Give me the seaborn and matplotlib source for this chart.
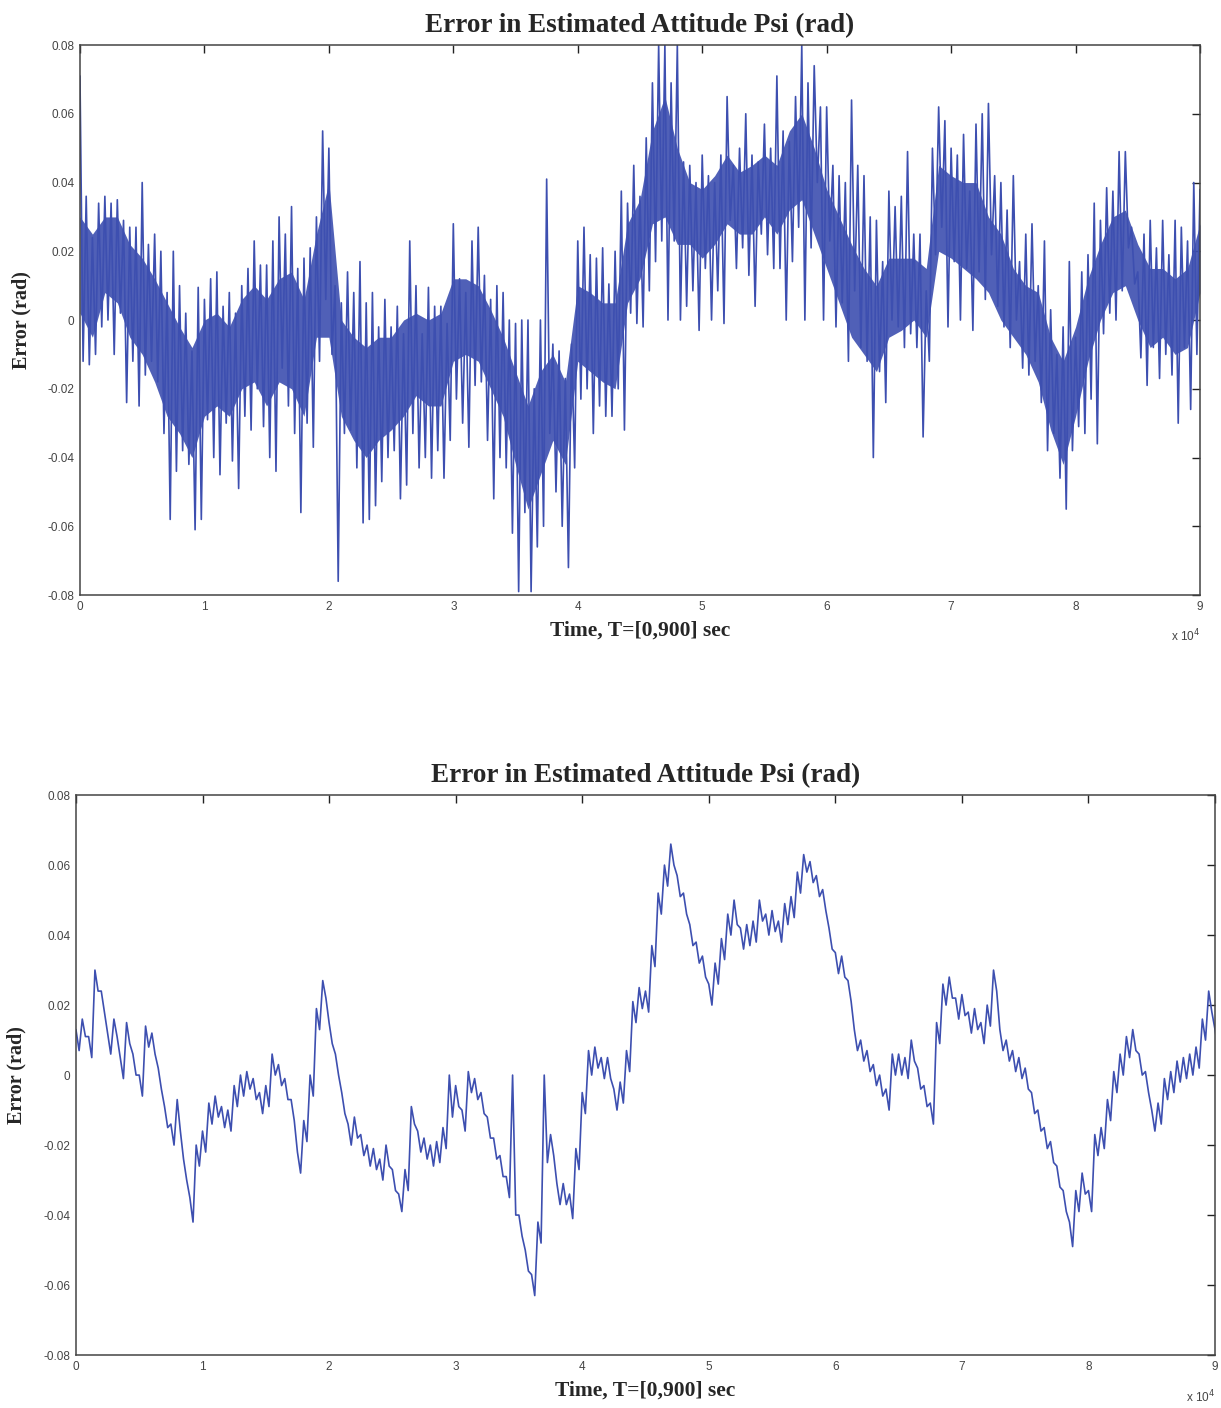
import numpy as np
import matplotlib
matplotlib.use("Agg")
import matplotlib.pyplot as plt
import seaborn as sns
from matplotlib.ticker import FuncFormatter

# ---------------- data ----------------
# sample instants (s), every 500 s from 0 to 90000
time_s = np.arange(0, 90001, 500)
# coarse instants (s) for the dense core band of the top panel, every 1000 s
core_time_s = np.arange(0, 90001, 1000)

# Top panel: upper / lower excursions of the noisy error at each sample (rad)
top_hi = [
    0.071, 0.036, 0.024, 0.034, 0.036, 0.034, 0.035, 0.029, 0.027, 0.027,
    0.040, 0.022, 0.025, 0.020, 0.008, 0.020, 0.010, 0.002, -0.009, 0.0095,
    0.006, 0.012, 0.014, 0.004, 0.008, 0.002, 0.010, 0.015, 0.023, 0.016,
    0.016, 0.023, 0.030, 0.025, 0.033, 0.015, 0.018, 0.021, 0.030, 0.055,
    0.050, 0.010, 0.005, 0.014, 0.008, 0.017, 0.005, 0.008, -0.002, 0.006,
    -0.002, 0.004, -0.004, 0.023, 0.010, -0.004, 0.0095, 0.004, 0.004, -0.001,
    0.028, 0.012, 0.008, 0.023, 0.027, 0.013, 0.006, 0.010, 0.008, 0.000,
    -0.001, 0.000, 0.000, -0.020, 0.000, 0.041, -0.007, -0.009, -0.017, -0.007,
    0.023, 0.027, 0.019, 0.018, 0.021, 0.0105, 0.020, 0.0375, 0.034, 0.045,
    0.036, 0.053, 0.069, 0.080, 0.080, 0.069, 0.080, 0.046, 0.045, 0.040,
    0.048, 0.042, 0.040, 0.048, 0.065, 0.045, 0.050, 0.060, 0.048, 0.046,
    0.057, 0.050, 0.071, 0.055, 0.052, 0.065, 0.080, 0.069, 0.074, 0.062,
    0.062, 0.045, 0.042, 0.040, 0.064, 0.045, 0.042, 0.030, 0.029, 0.017,
    0.0375, 0.033, 0.036, 0.049, 0.025, 0.025, 0.0085, 0.050, 0.062, 0.058,
    0.050, 0.048, 0.054, 0.0375, 0.057, 0.060, 0.063, 0.042, 0.040, 0.032,
    0.042, 0.017, 0.025, 0.028, 0.010, 0.023, 0.003, -0.010, -0.002, 0.017,
    -0.005, 0.014, 0.019, 0.034, 0.029, 0.0385, 0.0375, 0.049, 0.049, 0.027,
    0.014, 0.025, 0.029, 0.021, 0.029, 0.019, 0.029, 0.027, 0.023, 0.040,
    0.038,
]
top_lo = [
    -0.012, -0.013, -0.010, -0.002, 0.000, -0.010, 0.002, -0.024, -0.012, -0.025,
    -0.016, -0.012, -0.018, -0.033, -0.058, -0.044, -0.038, -0.042, -0.061, -0.058,
    -0.029, -0.040, -0.045, -0.030, -0.041, -0.049, -0.028, -0.032, -0.020, -0.031,
    -0.040, -0.044, -0.014, -0.025, -0.033, -0.056, -0.030, -0.037, -0.012, 0.006,
    -0.010, -0.076, -0.033, -0.032, -0.043, -0.059, -0.058, -0.054, -0.047, -0.040,
    -0.038, -0.052, -0.048, -0.033, -0.043, -0.040, -0.046, -0.038, -0.046, -0.035,
    -0.023, -0.030, -0.037, -0.019, -0.018, -0.035, -0.052, -0.040, -0.043, -0.062,
    -0.079, -0.056, -0.079, -0.066, -0.060, -0.033, -0.050, -0.060, -0.072, -0.043,
    -0.023, -0.020, -0.033, -0.025, -0.028, -0.028, -0.020, -0.032, 0.002, -0.001,
    -0.002, 0.0085, 0.017, 0.023, 0.000, 0.023, 0.000, 0.004, 0.0085, -0.003,
    0.015, 0.000, 0.0085, -0.001, 0.029, 0.015, 0.021, 0.013, 0.004, 0.025,
    0.019, 0.015, 0.015, 0.000, 0.017, 0.027, 0.000, 0.021, 0.040, 0.000,
    0.023, -0.002, 0.005, -0.012, 0.0085, -0.008, -0.012, -0.040, -0.015, -0.024,
    0.000, -0.002, -0.008, -0.004, -0.008, -0.034, -0.012, 0.019, 0.027, -0.002,
    0.017, 0.000, 0.015, -0.003, 0.014, 0.006, 0.019, 0.004, -0.002, -0.008,
    0.000, -0.014, -0.016, -0.012, -0.024, -0.038, -0.033, -0.046, -0.055, -0.038,
    -0.031, -0.033, -0.023, -0.036, -0.004, 0.002, 0.000, 0.0085, 0.021, 0.0105,
    -0.011, -0.019, -0.008, -0.017, -0.010, -0.016, -0.030, -0.008, -0.026, -0.010,
    0.0085,
]

# Top panel: dense core band (rad), every 1000 s
core_hi = [
    0.030, 0.025, 0.030, 0.030, 0.022, 0.018, 0.012, 0.005, -0.002, -0.008,
    0.000, 0.002, -0.002, 0.006, 0.010, 0.006, 0.012, 0.014, 0.006, 0.025,
    0.040, 0.000, -0.005, -0.008, -0.005, -0.005, 0.000, 0.002, 0.000, 0.002,
    0.012, 0.012, 0.010, 0.003, -0.005, -0.015, -0.025, -0.015, -0.010, -0.018,
    0.010, 0.008, 0.005, 0.005, 0.028, 0.035, 0.055, 0.065, 0.050, 0.040,
    0.038, 0.042, 0.048, 0.043, 0.045, 0.048, 0.045, 0.055, 0.060, 0.050,
    0.038, 0.030, 0.022, 0.015, 0.010, 0.018, 0.018, 0.018, 0.015, 0.045,
    0.042, 0.040, 0.040, 0.030, 0.025, 0.015, 0.010, 0.008, -0.005, -0.012,
    -0.002, 0.012, 0.022, 0.030, 0.032, 0.022, 0.015, 0.015, 0.012, 0.015,
    0.028,
]
core_lo = [
    0.002, -0.005, 0.008, 0.005, -0.005, -0.010, -0.018, -0.028, -0.033, -0.040,
    -0.028, -0.025, -0.028, -0.020, -0.018, -0.025, -0.018, -0.020, -0.028, -0.005,
    -0.005, -0.028, -0.035, -0.040, -0.035, -0.032, -0.028, -0.022, -0.025, -0.025,
    -0.012, -0.010, -0.012, -0.020, -0.028, -0.042, -0.055, -0.045, -0.035, -0.042,
    -0.012, -0.015, -0.018, -0.020, 0.005, 0.012, 0.028, 0.030, 0.022, 0.022,
    0.018, 0.022, 0.028, 0.025, 0.025, 0.030, 0.025, 0.032, 0.035, 0.025,
    0.015, 0.005, -0.005, -0.010, -0.015, -0.005, -0.003, 0.000, -0.005, 0.020,
    0.018, 0.015, 0.012, 0.008, 0.000, -0.005, -0.010, -0.018, -0.032, -0.042,
    -0.028, -0.012, 0.000, 0.008, 0.010, 0.000, -0.008, -0.005, -0.010, -0.008,
    0.008,
]

# Bottom panel: upper / lower excursions of the filtered error (rad)
bot_hi = [
    0.013, 0.016, 0.011, 0.030, 0.024, 0.012, 0.016, 0.005, 0.015, 0.006,
    0.000, 0.014, 0.012, 0.002, -0.009, -0.014, -0.007, -0.024, -0.035, -0.020,
    -0.016, -0.008, -0.006, -0.009, -0.010, -0.003, 0.000, 0.001, -0.001, -0.005,
    -0.003, 0.006, 0.003, -0.001, -0.007, -0.022, -0.013, 0.000, 0.019, 0.027,
    0.015, 0.006, -0.005, -0.014, -0.012, -0.017, -0.020, -0.021, -0.024, -0.020,
    -0.027, -0.034, -0.027, -0.009, -0.016, -0.018, -0.020, -0.019, -0.015, 0.000,
    -0.003, -0.010, 0.001, -0.001, -0.005, -0.012, -0.018, -0.023, -0.029, 0.000,
    -0.040, -0.050, -0.057, -0.042, 0.000, -0.017, -0.031, -0.031, -0.034, -0.021,
    -0.005, 0.007, 0.008, 0.005, 0.005, -0.004, -0.002, 0.007, 0.021, 0.025,
    0.024, 0.037, 0.052, 0.060, 0.066, 0.057, 0.052, 0.043, 0.038, 0.034,
    0.026, 0.032, 0.039, 0.046, 0.050, 0.042, 0.043, 0.044, 0.050, 0.046,
    0.047, 0.044, 0.049, 0.051, 0.058, 0.063, 0.061, 0.057, 0.053, 0.042,
    0.035, 0.034, 0.027, 0.013, 0.010, 0.007, 0.003, 0.000, -0.004, 0.006,
    0.006, 0.005, 0.010, 0.002, -0.003, -0.008, 0.015, 0.026, 0.028, 0.022,
    0.023, 0.018, 0.019, 0.015, 0.020, 0.030, 0.013, 0.010, 0.007, 0.005,
    0.002, -0.005, -0.010, -0.015, -0.019, -0.026, -0.033, -0.042, -0.033, -0.028,
    -0.033, -0.017, -0.015, -0.007, 0.001, 0.006, 0.011, 0.013, 0.006, 0.001,
    -0.010, -0.008, -0.001, 0.001, 0.004, 0.005, 0.006, 0.008, 0.016, 0.024,
    0.013,
]
bot_lo = [
    0.007, 0.011, 0.005, 0.024, 0.018, 0.006, 0.011, -0.001, 0.009, 0.000,
    -0.006, 0.008, 0.006, -0.004, -0.015, -0.020, -0.016, -0.030, -0.042, -0.026,
    -0.022, -0.014, -0.012, -0.015, -0.016, -0.009, -0.006, -0.004, -0.007, -0.011,
    -0.009, 0.000, -0.003, -0.007, -0.013, -0.028, -0.019, -0.006, 0.013, 0.022,
    0.009, 0.000, -0.011, -0.020, -0.018, -0.023, -0.026, -0.027, -0.030, -0.026,
    -0.033, -0.039, -0.033, -0.014, -0.022, -0.024, -0.026, -0.025, -0.021, -0.012,
    -0.009, -0.016, -0.005, -0.007, -0.011, -0.018, -0.024, -0.029, -0.035, -0.040,
    -0.046, -0.056, -0.063, -0.048, -0.025, -0.023, -0.037, -0.037, -0.041, -0.027,
    -0.011, 0.000, 0.002, -0.001, -0.001, -0.010, -0.008, 0.001, 0.015, 0.019,
    0.018, 0.031, 0.046, 0.054, 0.060, 0.051, 0.046, 0.037, 0.032, 0.028,
    0.020, 0.026, 0.033, 0.040, 0.043, 0.036, 0.037, 0.038, 0.044, 0.040,
    0.041, 0.038, 0.043, 0.045, 0.052, 0.058, 0.055, 0.051, 0.047, 0.036,
    0.029, 0.028, 0.021, 0.007, 0.004, 0.001, -0.003, -0.006, -0.010, 0.000,
    0.000, -0.001, 0.004, -0.004, -0.009, -0.014, 0.009, 0.020, 0.022, 0.016,
    0.017, 0.012, 0.013, 0.009, 0.014, 0.024, 0.007, 0.004, 0.001, -0.001,
    -0.004, -0.011, -0.016, -0.021, -0.025, -0.032, -0.039, -0.049, -0.039, -0.034,
    -0.039, -0.023, -0.021, -0.013, -0.005, 0.000, 0.005, 0.007, 0.000, -0.005,
    -0.016, -0.014, -0.007, -0.005, -0.002, -0.001, 0.000, 0.002, 0.010, 0.018,
    0.007,
]

title_text = "Error in Estimated Attitude Psi (rad)"
xlabel_text = "Time, T=[0,900] sec"
ylabel_text = "Error (rad)"
x_ticks = list(range(0, 90001, 10000))
y_ticks = [-0.08, -0.06, -0.04, -0.02, 0.0, 0.02, 0.04, 0.06, 0.08]

# ---------------- styling ----------------
sns.set_style("white")
plt.rcParams["font.family"] = ["Liberation Sans", "DejaVu Sans"]

LINE_COLOR = "#3d4fb0"
SERIF = ["Liberation Serif", "DejaVu Serif"]


def interleave(hi, lo):
    n = len(time_s)
    t = np.empty(2 * n)
    v = np.empty(2 * n)
    t[0::2] = time_s
    t[1::2] = time_s + 250
    v[0::2] = hi
    v[1::2] = lo
    return t, v


def fmt_y(v, pos):
    if abs(v) < 1e-9:
        return "0"
    return f"{v:.2f}"


def style_axes(ax):
    ax.set_xlim(0, 90000)
    ax.set_ylim(-0.08, 0.08)
    ax.set_xticks(x_ticks)
    ax.set_yticks(y_ticks)
    ax.xaxis.set_major_formatter(FuncFormatter(lambda v, p: f"{v/1e4:.0f}"))
    ax.yaxis.set_major_formatter(FuncFormatter(fmt_y))
    ax.tick_params(direction="in", length=6, width=1.0, top=True, right=True,
                   labelsize=8.5, labelcolor="#444444", color="#222222", pad=4)
    for s in ax.spines.values():
        s.set_visible(True)
        s.set_color("#444444")
        s.set_linewidth(1.1)
    ax.set_title(title_text, fontfamily=SERIF, fontweight="bold", fontsize=19.5,
                 pad=9)
    ax.set_xlabel(xlabel_text, fontfamily=SERIF, fontweight="bold", fontsize=15.5)
    ax.set_ylabel(ylabel_text, fontfamily=SERIF, fontweight="bold", fontsize=14.5)
    ax.xaxis.set_label_coords(0.5, -0.046)
    ax.yaxis.set_label_coords(-0.043, 0.5)
    ax.text(1.0, -0.075, r"x 10$^4$", transform=ax.transAxes, ha="right",
            va="center", fontsize=8.5, color="#444444")


fig = plt.figure(figsize=(12.21, 14.08), dpi=100)
ax1 = fig.add_axes([0.0655, 0.5774, 0.9173, 0.3906])
ax2 = fig.add_axes([0.0622, 0.0376, 0.9329, 0.3977])

# top: dense core band + noisy excursions
ax1.fill_between(core_time_s, core_lo, core_hi, color=LINE_COLOR, alpha=0.9,
                 linewidth=0)
t1, v1 = interleave(top_hi, top_lo)
sns.lineplot(x=t1, y=v1, ax=ax1, color=LINE_COLOR, linewidth=1.2,
             sort=False, estimator=None)

# bottom: filtered error
t2, v2 = interleave(bot_hi, bot_lo)
sns.lineplot(x=t2, y=v2, ax=ax2, color=LINE_COLOR, linewidth=1.2,
             sort=False, estimator=None)

style_axes(ax1)
style_axes(ax2)

fig.savefig("out.png", dpi=100, facecolor="white")
